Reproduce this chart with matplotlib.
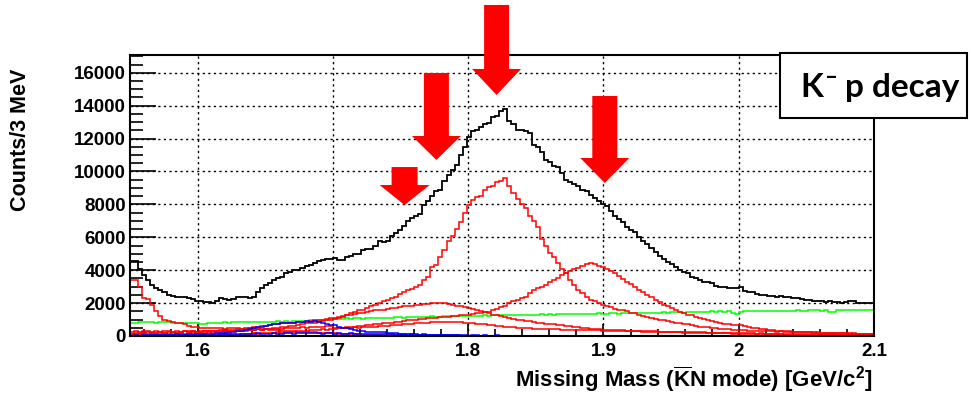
import numpy as np
import matplotlib
matplotlib.use('Agg')
import matplotlib.pyplot as plt
from matplotlib.patches import Polygon, Rectangle
from matplotlib.transforms import ScaledTranslation

plt.rcParams['font.family'] = 'Liberation Sans'
plt.rcParams['font.weight'] = 'bold'
plt.rcParams['mathtext.fontset'] = 'custom'
plt.rcParams['mathtext.rm'] = 'Liberation Sans:bold'
plt.rcParams['mathtext.bf'] = 'Liberation Sans:bold'
plt.rcParams['mathtext.it'] = 'Liberation Sans:bold'

# histogram binning: 3 MeV bins starting at 1.55 GeV
x_start = 1.55
bin_width = 0.003

total = [
    4550, 4550, 4100, 3700, 3400, 3100, 2900, 2800, 2650, 2500,
    2450, 2400, 2350, 2400, 2300, 2250, 2150, 2100, 2050, 2050,
    2000, 2100, 2300, 2250, 2200, 2250, 2350, 2350, 2400, 2300,
    2350, 2700, 2900, 3100, 3200, 3400, 3500, 3600, 3800, 3900,
    4000, 4000, 4150, 4250, 4300, 4450, 4550, 4600, 4700, 4650,
    4750, 4600, 4600, 4800, 4850, 5000, 5000, 5200, 5300, 5300,
    5500, 5750, 5700, 5800, 6100, 6250, 6450, 6700, 7000, 7200,
    7300, 7400, 7950, 8200, 8500, 8800, 8900, 9400, 9800, 10100,
    10400, 11000, 11500, 12100, 12450, 12500, 12700, 12900, 12950, 13300,
    13350, 13650, 13800, 13050, 12900, 12550, 12500, 12450, 12350, 11600,
    11500, 11200, 10700, 10600, 10350, 10250, 9900, 9500, 9350, 9250,
    9100, 8900, 8800, 8600, 8400, 8200, 8000, 7900, 7600, 7300,
    7100, 6900, 6650, 6450, 6300, 6000, 5800, 5600, 5350, 5100,
    4850, 4700, 4500, 4400, 4200, 4000, 3900, 3800, 3600, 3550,
    3400, 3300, 3300, 3200, 3050, 3000, 2950, 2900, 2900, 2900,
    3000, 2750, 2700, 2650, 2550, 2500, 2500, 2450, 2450, 2400,
    2450, 2400, 2350, 2300, 2300, 2250, 2200, 2200, 2150, 2150,
    2100, 2050, 2100, 2050, 2050, 2000, 2050, 2150, 2100, 2000,
    2000, 2000, 1980, 1980,
]

# main peak component
red_peak = [
    150, 120, 180, 100, 140, 200, 160, 120, 180, 150,
    130, 170, 200, 150, 180, 220, 160, 200, 180, 240,
    200, 260, 220, 280, 250, 300, 280, 330, 300, 360,
    350, 400, 380, 450, 420, 500, 480, 550, 530, 600,
    620, 680, 700, 760, 800, 820, 880, 900, 950, 980,
    1050, 1100, 1170, 1300, 1400, 1480, 1550, 1600, 1700, 1850,
    1900, 2000, 2100, 2200, 2300, 2400, 2550, 2650, 2800, 2850,
    2950, 3100, 3400, 3600, 4200, 4300, 4800, 5200, 5800, 6050,
    6500, 6950, 7450, 7950, 8250, 8450, 8500, 8850, 9050, 9100,
    9350, 9400, 9600, 9100, 8700, 8300, 8050, 7750, 7300, 7000,
    6650, 5900, 5500, 5050, 4800, 4450, 4100, 3800, 3400, 3100,
    2800, 2600, 2400, 2200, 2100, 2000, 1900, 1850, 1750, 1650,
    1600, 1580, 1500, 1400, 1380, 1300, 1200, 1150, 1100, 1050,
    980, 950, 900, 870, 820, 780, 750, 700, 670, 620,
    570, 560, 520, 480, 470, 430, 420, 400, 380, 370,
    360, 340, 330, 320, 330, 300, 290, 300, 280, 270,
    280, 260, 250, 260, 240, 230, 240, 220, 210, 220,
    200, 190, 200, 180, 170, 180, 160, 150, 160, 150,
    140, 140, 130, 130,
]

# component peaking near 1.9 GeV
red_high = [
    60, 80, 50, 90, 70, 100, 60, 80, 110, 70,
    90, 60, 100, 80, 120, 90, 70, 110, 100, 80,
    90, 120, 100, 130, 110, 90, 140, 120, 150, 130,
    160, 140, 180, 170, 200, 190, 220, 210, 250, 240,
    270, 300, 280, 330, 350, 340, 380, 400, 390, 430,
    450, 480, 470, 520, 540, 560, 580, 600, 640, 660,
    700, 720, 760, 780, 800, 850, 870, 900, 950, 980,
    1000, 1020, 1050, 1080, 1100, 1120, 1150, 1170, 1180, 1200,
    1220, 1250, 1280, 1300, 1350, 1380, 1400, 1450, 1480, 1550,
    1650, 1750, 1850, 1990, 2100, 2200, 2300, 2400, 2600, 2800,
    2900, 3000, 3100, 3300, 3400, 3550, 3700, 3800, 3950, 4100,
    4150, 4250, 4400, 4420, 4350, 4250, 4200, 4100, 3950, 3800,
    3650, 3450, 3300, 3150, 3000, 2800, 2650, 2500, 2350, 2200,
    2050, 1900, 1800, 1700, 1600, 1480, 1400, 1300, 1250, 1170,
    1100, 1050, 970, 900, 850, 800, 750, 700, 680, 660,
    650, 600, 560, 500, 470, 440, 400, 380, 350, 330,
    300, 290, 280, 260, 250, 240, 230, 220, 220, 210,
    200, 200, 190, 180, 180, 170, 160, 160, 150, 150,
    140, 140, 130, 130,
]

# broad component around 1.78 GeV
red_broad = [
    150, 200, 120, 180, 220, 160, 200, 250, 180, 230,
    260, 200, 240, 280, 220, 300, 260, 240, 300, 280,
    320, 290, 350, 330, 380, 360, 400, 420, 450, 480,
    520, 550, 600, 620, 680, 700, 740, 760, 780, 800,
    820, 850, 870, 860, 900, 950, 980, 1000, 1050, 1070,
    1100, 1150, 1200, 1280, 1300, 1350, 1400, 1420, 1480, 1500,
    1550, 1580, 1600, 1650, 1680, 1700, 1750, 1800, 1820, 1850,
    1890, 1900, 1950, 1950, 1990, 2000, 1980, 1990, 1950, 1900,
    1850, 1800, 1750, 1700, 1650, 1550, 1500, 1450, 1380, 1300,
    1250, 1200, 1150, 1100, 1050, 1000, 970, 930, 900, 850,
    800, 780, 750, 720, 700, 670, 650, 620, 600, 570,
    540, 500, 470, 450, 430, 410, 390, 380, 370, 360,
    350, 340, 330, 320, 320, 310, 300, 300, 290, 280,
    270, 270, 260, 260, 250, 250, 240, 240, 230, 230,
    220, 220, 210, 210, 200, 210, 190, 200, 180, 190,
    170, 180, 160, 170, 150, 160, 150, 140, 150, 130,
    140, 130, 120, 130, 120, 110, 120, 110, 100, 110,
    100, 100, 90, 100, 90, 90, 80, 90, 80, 80,
    80, 70, 70, 70,
]

# low-mass component falling from threshold
red_low = [
    3400, 3400, 3000, 2300, 2250, 1900, 1500, 1200, 1000, 900,
    870, 800, 780, 750, 600, 550, 520, 500, 480, 470,
    480, 460, 470, 450, 480, 470, 460, 450, 470, 460,
    440, 450, 430, 400, 380, 370, 350, 330, 320, 300,
    280, 270, 250, 240, 230, 220, 200, 190, 180, 170,
    160, 150, 140, 130, 120, 110, 100, 90, 80, 70,
    60, 60, 50, 50, 40, 40, 30, 30, 30, 20,
]

# small smooth component
red_small = [
    250, 300, 220, 280, 320, 260, 300, 240, 280, 330,
    270, 300, 250, 320, 280, 300, 260, 330, 290, 310,
    300, 280, 320, 350, 300, 330, 360, 320, 350, 380,
    370, 400, 380, 420, 400, 430, 450, 420, 460, 480,
    470, 500, 520, 490, 530, 550, 540, 570, 590, 580,
    480, 490, 500, 480, 500, 520, 510, 530, 540, 550,
    560, 580, 600, 620, 640, 650, 680, 700, 720, 740,
    760, 780, 800, 820, 830, 850, 860, 870, 860, 870,
    850, 840, 820, 800, 780, 750, 720, 700, 680, 650,
    620, 600, 570, 550, 520, 500, 480, 470, 460, 450,
    440, 430, 420, 410, 400, 400, 390, 380, 370, 370,
    360, 360, 350, 350, 340, 340, 330, 330, 320, 320,
    310, 300, 300, 290, 280, 280, 270, 260, 260, 250,
    250, 240, 240, 230, 220, 220, 210, 210, 200, 200,
    190, 190, 180, 180, 170, 170, 160, 160, 150, 150,
    140, 140, 130, 130, 120, 120, 110, 110, 100, 100,
    100, 90, 90, 90, 80, 80, 80, 70, 70, 70,
    60, 60, 60, 60, 50, 50, 50, 50, 40, 40,
    40, 40, 30, 30,
]

green_bg = [
    770, 780, 840, 830, 860, 850, 820, 840, 870, 830,
    820, 800, 810, 790, 770, 780, 760, 740, 730, 760,
    790, 800, 810, 830, 820, 850, 840, 830, 860, 850,
    870, 860, 850, 880, 870, 860, 890, 880, 900, 870,
    900, 920, 910, 930, 950, 940, 980, 1000, 990, 1020,
    1050, 1040, 1060, 1070, 1050, 1080, 1070, 1060, 1090, 1080,
    1100, 1080, 1120, 1110, 1100, 1140, 1130, 1120, 1160, 1150,
    1170, 1140, 1180, 1170, 1200, 1180, 1170, 1200, 1210, 1190,
    1200, 1220, 1210, 1230, 1220, 1200, 1240, 1250, 1230, 1260,
    1270, 1250, 1280, 1260, 1290, 1280, 1270, 1300, 1290, 1280,
    1300, 1310, 1290, 1320, 1300, 1330, 1320, 1310, 1340, 1330,
    1350, 1340, 1320, 1360, 1350, 1370, 1340, 1360, 1380, 1370,
    1360, 1380, 1390, 1370, 1400, 1380, 1390, 1410, 1400, 1420,
    1410, 1430, 1420, 1440, 1430, 1450, 1420, 1440, 1470, 1460,
    1480, 1460, 1470, 1490, 1480, 1500, 1470, 1490, 1380, 1360,
    1480, 1500, 1490, 1510, 1500, 1520, 1490, 1510, 1530, 1520,
    1500, 1530, 1540, 1520, 1550, 1530, 1540, 1560, 1550, 1570,
    1540, 1560, 1450, 1470, 1550, 1570, 1580, 1560, 1580, 1590,
    1580, 1600, 1590, 1590,
]

blue_bump = [
    20, 30, 20, 40, 30, 50, 40, 60, 50, 70,
    60, 80, 70, 90, 100, 90, 120, 110, 140, 130,
    150, 170, 160, 200, 220, 250, 280, 320, 380, 450,
    480, 530, 560, 620, 670, 700, 720, 760, 770, 800,
    820, 850, 870, 910, 880, 900, 870, 820, 700, 650,
    670, 560, 470, 460, 420, 380, 300, 280, 250, 240,
    260, 250, 230, 200, 180, 160, 150, 140, 120, 110,
    100, 90, 90, 80, 70, 60, 60, 50, 50, 40,
    40, 30, 30, 20, 20, 20, 10, 10, 10, 0,
]

blue_flat = [
    20, 40, 30, 60, 40, 80, 50, 70, 40, 90,
    60, 100, 70, 50, 90, 110, 80, 60, 120, 90,
    70, 130, 100, 80, 120, 140, 90, 110, 150, 120,
    100, 160, 130, 110, 150, 170, 140, 120, 160, 180,
    150, 170, 190, 160, 180, 200, 170, 150, 190, 160,
    140, 170, 150, 130, 160, 140, 120, 150, 130, 110,
    140, 120, 100, 130, 110, 90, 120, 100, 80, 110,
    90, 70, 100, 80, 60, 90, 70, 50, 80, 60,
    40, 70, 50, 30, 60, 40, 20, 50, 30, 10,
    40, 20, 10, 30, 10, 0, 20, 10, 0, 0,
]

x_ticks = [1.6, 1.7, 1.8, 1.9, 2.0, 2.1]
x_tick_labels = ['1.6', '1.7', '1.8', '1.9', '2', '2.1']
y_ticks = [0, 2000, 4000, 6000, 8000, 10000, 12000, 14000, 16000]

# arrow tips (mass, counts) marking the resonance positions
arrow_x = [1.753, 1.7765, 1.821, 1.901]
arrow_y = [7960, 10700, 14650, 9300]
# head half width, head length, shaft half width, full length (pixels)
arrow_shape = [(25, 20, 13, 38), (24.5, 24, 12.5, 87),
               (24.5, 26, 12.5, 90), (24.5, 25, 12.5, 87)]

W, H = 971, 397
fig = plt.figure(figsize=(W / 100, H / 100), dpi=100)
ax = fig.add_axes([130 / W, 1 - 336 / H, 744 / W, 281 / H])


def draw_hist(values, color, lw=1.1):
    v = np.asarray(values, dtype=float)
    edges = x_start + bin_width * np.arange(len(v) + 1)
    ax.stairs(v, edges, color=color, lw=lw, baseline=None)


draw_hist(green_bg, '#00ff00')
draw_hist(red_small, '#ff0000')
draw_hist(red_low, '#ff0000')
draw_hist(red_broad, '#ff0000')
draw_hist(red_high, '#ff0000')
draw_hist(red_peak, '#ff0000')
draw_hist(blue_flat, '#0000ff')
draw_hist(blue_bump, '#0000ff')
draw_hist(total, 'black', lw=1.3)

ax.set_xlim(1.55, 2.1)
ax.set_ylim(0, 17080)
ax.set_xticks(x_ticks)
ax.set_xticklabels(x_tick_labels)
ax.set_xticks(np.arange(1.56, 2.1, 0.02), minor=True)
ax.set_yticks(y_ticks)
ax.set_yticks(np.arange(0, 17001, 500), minor=True)

ax.tick_params(which='both', direction='in', width=1.2, labelsize=13.5)
ax.tick_params(axis='y', which='major', length=19, pad=3)
ax.tick_params(axis='y', which='minor', length=9)
ax.tick_params(axis='x', which='major', length=9, pad=5)
ax.tick_params(axis='x', which='minor', length=5)
for s in ax.spines.values():
    s.set_linewidth(1.5)
ax.grid(True, which='major', color='black', linestyle=(0, (1.6, 2.4)), lw=1.0)
ax.set_axisbelow(True)

fig.text(20 / W, 1 - 140 / H, 'Counts/3 MeV', rotation=90, ha='center',
         va='center', fontsize=15.5)
fig.text(873 / W, 1 - 387 / H,
         r'Missing Mass ($\overline{\mathrm{K}}$N mode) [GeV/c$^{2}$]',
         ha='right', va='baseline', fontsize=16)

# block arrows, sized in pixels and anchored at data points
for xt, yt, (hw, hl, sw, L) in zip(arrow_x, arrow_y, arrow_shape):
    verts = np.array([(0, 0), (-hw, hl), (-sw, hl), (-sw, L), (sw, L),
                      (sw, hl), (hw, hl)]) / 100.0
    tr = fig.dpi_scale_trans + ScaledTranslation(xt, yt, ax.transData)
    fig.add_artist(Polygon(verts, closed=True, facecolor='#ff0000',
                           edgecolor='none', transform=tr, zorder=10))

# label box
fig.add_artist(Rectangle((780 / W, 1 - 118 / H), 187 / W, 65 / H,
                         transform=fig.transFigure, facecolor='white',
                         edgecolor='black', lw=1.5, zorder=11))
fig.text(800 / W, 1 - 97 / H, 'K', family='Lato', weight='bold',
         fontsize=24, ha='left', va='baseline', zorder=12)
fig.text(825 / W, 1 - 77 / H, '\u2013', family='Lato', weight='bold',
         fontsize=16, ha='left', va='center', zorder=12)
fig.text(845 / W, 1 - 97 / H, 'p decay', family='Lato', weight='bold',
         fontsize=24, ha='left', va='baseline', zorder=12)

fig.savefig('out.png', dpi=100, facecolor='white')
